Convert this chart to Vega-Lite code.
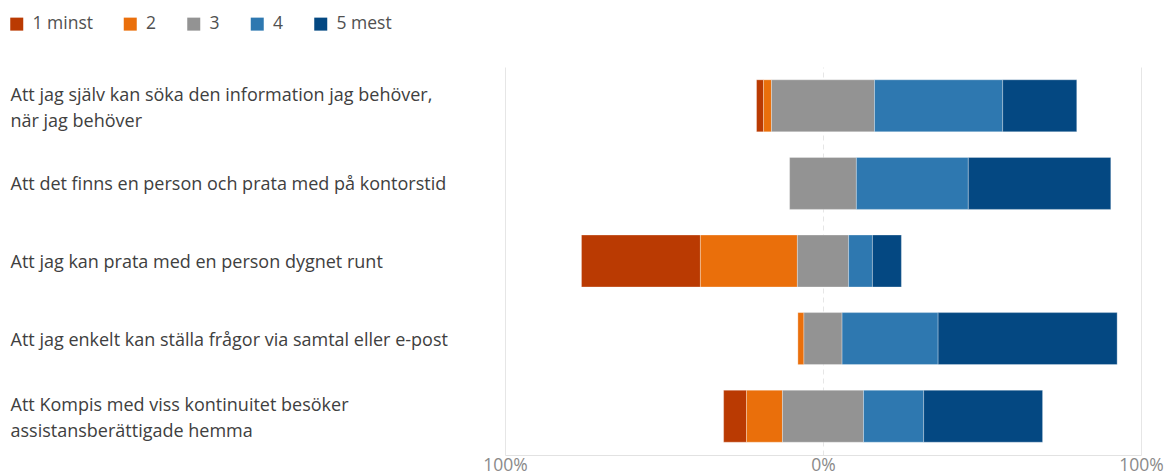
{
  "$schema": "https://vega.github.io/schema/vega-lite/v6.json",
  "autosize": {"type": "none"},
  "width": 636,
  "height": 388,
  "padding": {"left": 505, "top": 67, "right": 29, "bottom": 16},
  "background": "white",
  "config": {
    "view": {"stroke": null},
    "font": "Open Sans"
  },
  "data": {
    "values": [
      {"question": "Att jag själv kan söka den information jag behöver,|när jag behöver", "rating": "1 minst", "order": 1, "pct": 2.2},
      {"question": "Att jag själv kan söka den information jag behöver,|när jag behöver", "rating": "2", "order": 2, "pct": 2.5},
      {"question": "Att jag själv kan söka den information jag behöver,|när jag behöver", "rating": "3", "order": 3, "pct": 32.4},
      {"question": "Att jag själv kan söka den information jag behöver,|när jag behöver", "rating": "4", "order": 4, "pct": 40.3},
      {"question": "Att jag själv kan söka den information jag behöver,|när jag behöver", "rating": "5 mest", "order": 5, "pct": 23.3},
      {"question": "Att det finns en person och prata med på kontorstid", "rating": "3", "order": 3, "pct": 21.0},
      {"question": "Att det finns en person och prata med på kontorstid", "rating": "4", "order": 4, "pct": 35.2},
      {"question": "Att det finns en person och prata med på kontorstid", "rating": "5 mest", "order": 5, "pct": 44.8},
      {"question": "Att jag kan prata med en person dygnet runt", "rating": "1 minst", "order": 1, "pct": 37.4},
      {"question": "Att jag kan prata med en person dygnet runt", "rating": "2", "order": 2, "pct": 30.5},
      {"question": "Att jag kan prata med en person dygnet runt", "rating": "3", "order": 3, "pct": 16.1},
      {"question": "Att jag kan prata med en person dygnet runt", "rating": "4", "order": 4, "pct": 7.5},
      {"question": "Att jag kan prata med en person dygnet runt", "rating": "5 mest", "order": 5, "pct": 9.1},
      {"question": "Att jag enkelt kan ställa frågor via samtal eller e-post", "rating": "2", "order": 2, "pct": 1.9},
      {"question": "Att jag enkelt kan ställa frågor via samtal eller e-post", "rating": "3", "order": 3, "pct": 12.0},
      {"question": "Att jag enkelt kan ställa frågor via samtal eller e-post", "rating": "4", "order": 4, "pct": 30.2},
      {"question": "Att jag enkelt kan ställa frågor via samtal eller e-post", "rating": "5 mest", "order": 5, "pct": 56.3},
      {"question": "Att Kompis med viss kontinuitet besöker|assistansberättigade hemma", "rating": "1 minst", "order": 1, "pct": 7.2},
      {"question": "Att Kompis med viss kontinuitet besöker|assistansberättigade hemma", "rating": "2", "order": 2, "pct": 11.3},
      {"question": "Att Kompis med viss kontinuitet besöker|assistansberättigade hemma", "rating": "3", "order": 3, "pct": 25.5},
      {"question": "Att Kompis med viss kontinuitet besöker|assistansberättigade hemma", "rating": "4", "order": 4, "pct": 18.9},
      {"question": "Att Kompis med viss kontinuitet besöker|assistansberättigade hemma", "rating": "5 mest", "order": 5, "pct": 37.4}
    ]
  },
  "transform": [
    {"calculate": "datum.order <= 2 ? datum.pct : (datum.order == 3 ? datum.pct / 2 : 0)", "as": "leftpart"},
    {"stack": "pct", "as": ["v1", "v2"], "groupby": ["question"], "sort": [{"field": "order", "order": "ascending"}]},
    {"joinaggregate": [{"op": "sum", "field": "leftpart", "as": "offset"}], "groupby": ["question"]},
    {"calculate": "datum.v1 - datum.offset", "as": "x1"},
    {"calculate": "datum.v2 - datum.offset", "as": "x2"}
  ],
  "mark": {"type": "bar", "stroke": "white", "strokeWidth": 0.6, "strokeOpacity": 0.5},
  "encoding": {
    "y": {
      "field": "question",
      "type": "nominal",
      "sort": [
        "Att jag själv kan söka den information jag behöver,|när jag behöver",
        "Att det finns en person och prata med på kontorstid",
        "Att jag kan prata med en person dygnet runt",
        "Att jag enkelt kan ställa frågor via samtal eller e-post",
        "Att Kompis med viss kontinuitet besöker|assistansberättigade hemma"
      ],
      "scale": {"paddingInner": 0.33, "paddingOuter": 0.165},
      "axis": {
        "title": null,
        "domain": false,
        "ticks": false,
        "grid": false,
        "labelAlign": "left",
        "labelPadding": 495,
        "labelFontSize": 18,
        "labelColor": "#404040",
        "labelLimit": 0,
        "labelLineHeight": 26,
        "labelOffset": {"condition": {"test": "indexof(datum.value, '|') >= 0", "value": -10}, "value": 2},
        "labelExpr": "split(datum.label, '|')"
      }
    },
    "x": {
      "field": "x1",
      "type": "quantitative",
      "scale": {"domain": [-100, 100]},
      "axis": {
        "title": null,
        "values": [-100, 0, 100],
        "labelExpr": "abs(datum.value) + '%'",
        "labelFlush": false,
        "labelFontSize": 17.5,
        "labelColor": "#8a8a8a",
        "labelPadding": 1,
        "ticks": false,
        "domain": true,
        "domainColor": "#e2e2e2",
        "grid": true,
        "gridColor": "#e6e6e6",
        "gridDash": {"condition": {"test": "datum.value === 0", "value": [5, 4]}, "value": []}
      }
    },
    "x2": {"field": "x2"},
    "color": {
      "field": "rating",
      "type": "nominal",
      "scale": {
        "domain": ["1 minst", "2", "3", "4", "5 mest"],
        "range": ["#BA3A02", "#EA6F0B", "#939393", "#2E78B0", "#044882"]
      },
      "legend": {
        "title": null,
        "orient": "none",
        "direction": "horizontal",
        "legendX": -497,
        "legendY": -52,
        "symbolType": "square",
        "symbolSize": 169,
        "symbolStrokeWidth": 0,
        "labelFontSize": 17.5,
        "labelColor": "#505050",
        "labelOffset": 7,
        "columnPadding": 28.5
      }
    }
  }
}
